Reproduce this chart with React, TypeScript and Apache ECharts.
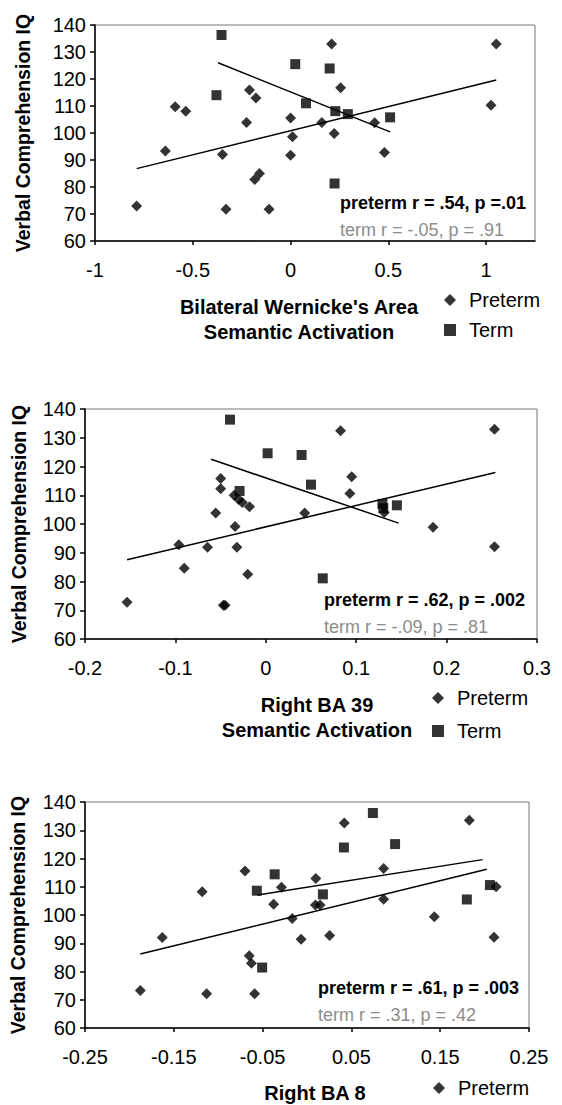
import React, { useEffect, useRef } from "react";
import * as echarts from "echarts";

// ---------- DATA ----------
// Panel 1: Bilateral Wernicke's Area
const p1Preterm: number[][] = [
  [-0.787, 73], [-0.64, 93.3], [-0.59, 109.7], [-0.536, 108.1], [-0.348, 92], [-0.33, 71.8],
  [-0.21, 115.9], [-0.177, 113], [-0.225, 103.9], [-0.183, 82.8], [-0.159, 85], [-0.11, 71.8],
  [0, 105.6], [0.01, 98.6], [0, 91.8], [0.16, 103.9], [0.21, 133], [0.223, 99.8], [0.256, 116.8],
  [0.43, 103.8], [0.48, 92.8], [1.025, 110.3], [1.052, 133],
];
const p1Term: number[][] = [
  [-0.353, 136.3], [-0.379, 114], [0.024, 125.5], [0.079, 111], [0.2, 123.9], [0.229, 108.1],
  [0.293, 107], [0.509, 105.8], [0.225, 81.3],
];
const p1PretermFit: number[][] = [[-0.787, 86.8], [1.052, 119.6]];
const p1TermFit: number[][] = [[-0.371, 126.0], [0.509, 100.4]];
const p1XTicks = [-1, -0.5, 0, 0.5, 1];

// Panel 2: Right BA 39
const p2Preterm: number[][] = [
  [-0.1535, 72.8], [-0.0962, 92.8], [-0.0902, 84.6], [-0.0645, 91.9], [-0.0554, 103.8],
  [-0.0499, 115.8], [-0.0499, 112.3], [-0.047, 71.7], [-0.045, 71.7], [-0.034, 99.1],
  [-0.035, 110], [-0.03, 108.5], [-0.026, 107.5], [-0.032, 91.9], [-0.018, 106], [-0.02, 82.5],
  [0.043, 103.8], [0.0827, 132.4], [0.093, 110.6], [0.095, 116.4], [0.131, 104], [0.185, 98.9],
  [0.253, 133], [0.253, 92.1],
];
const p2Term: number[][] = [
  [-0.0396, 136.3], [0.002, 124.6], [0.0396, 124], [0.05, 113.7], [0.063, 81.1], [0.129, 107],
  [0.13, 105.5], [0.145, 106.5], [-0.029, 111.5],
];
const p2PretermFit: number[][] = [[-0.1535, 87.6], [0.254, 117.9]];
const p2TermFit: number[][] = [[-0.0605, 122.5], [0.147, 100.3]];
const p2XTicks = [-0.2, -0.1, 0, 0.1, 0.2, 0.3];

// Panel 3: Right BA 8
const p3Preterm: number[][] = [
  [-0.1877, 73.3], [-0.163, 92], [-0.118, 108.2], [-0.113, 72.1], [-0.0698, 115.6], [-0.065, 85.6],
  [-0.0626, 82.9], [-0.059, 72.1], [-0.0376, 103.8], [-0.0288, 109.8], [-0.0167, 98.8],
  [-0.0066, 91.4], [0.0099, 112.9], [0.0095, 103.5], [0.0147, 103.5], [0.0255, 92.7],
  [0.042, 132.6], [0.0863, 116.5], [0.0863, 105.6], [0.1434, 99.4], [0.1828, 133.5],
  [0.2106, 92.1], [0.213, 110],
];
const p3Term: number[][] = [
  [0.0742, 136.1], [0.0416, 123.9], [0.0992, 125.1], [-0.0364, 114.4], [-0.0565, 108.6],
  [0.0179, 107.3], [-0.0505, 81.4], [0.18, 105.5], [0.206, 110.6],
];
const p3PretermFit: number[][] = [[-0.1877, 86.2], [0.2025, 116.2]];
const p3TermFit: number[][] = [[-0.0557, 107.1], [0.1977, 119.6]];
const p3XTicks = [-0.25, -0.15, -0.05, 0.05, 0.15, 0.25];

const yMin = 60;
const yMax = 140;
const yStep = 10;

const stats = [
  ["preterm r = .54, p =.01", "term r = -.05, p = .91"],
  ["preterm r = .62, p = .002", "term r = -.09, p = .81"],
  ["preterm r = .61, p = .003", "term r = .31, p = .42"],
];
const xTitles = [
  ["Bilateral Wernicke's Area", "Semantic Activation"],
  ["Right BA 39", "Semantic Activation"],
  ["Right BA 8"],
];
const yTitle = "Verbal Comprehension IQ";

// ---------- LAYOUT ----------
const FONT = '"Liberation Sans", Arial, Helvetica, sans-serif';

const grids = [
  { left: 95, top: 25, width: 440, height: 216 },
  { left: 85, top: 409, width: 452, height: 230 },
  { left: 85, top: 802, width: 444, height: 226 },
];
const xRanges = [
  { min: -1, max: 1.25, interval: 0.25, ticks: p1XTicks },
  { min: -0.2, max: 0.3, interval: 0.1, ticks: p2XTicks },
  { min: -0.25, max: 0.25, interval: 0.05, ticks: p3XTicks },
];
const statPos = [
  [340, 203, 230],
  [324, 600, 627],
  [318, 988, 1015],
];
const xTitlePos = [
  [299, 307, 332],
  [317, 705, 730],
  [315, 1093, 0],
];
const yTitlePos = [23, 19, 18];
const legendPos = [
  { left: 439, top: 285, gap: 10, names: ["Preterm", "Term"] },
  { left: 427, top: 683, gap: 13, names: ["Preterm", "Term"] },
  { left: 428, top: 1073, gap: 10, names: ["Preterm"] },
];

const panels = [
  { pre: p1Preterm, term: p1Term, preFit: p1PretermFit, termFit: p1TermFit },
  { pre: p2Preterm, term: p2Term, preFit: p2PretermFit, termFit: p2TermFit },
  { pre: p3Preterm, term: p3Term, preFit: p3PretermFit, termFit: p3TermFit },
];

function buildOption() {
  const xAxis = xRanges.map((r, i) => ({
    type: "value",
    gridIndex: i,
    min: r.min,
    max: r.max,
    interval: r.interval,
    axisLine: { show: true, onZero: false, lineStyle: { color: "#000", width: 1.5 } },
    axisTick: { show: true, inside: false, length: 4, customValues: r.ticks, lineStyle: { color: "#000", width: 1.5 } },
    axisLabel: { customValues: r.ticks, margin: 19, color: "#000", fontSize: 20, fontFamily: FONT },
    splitLine: { show: false },
  }));
  const yAxis = grids.map((_, i) => ({
    type: "value",
    gridIndex: i,
    min: yMin,
    max: yMax,
    interval: yStep,
    axisLine: { show: true, onZero: false, lineStyle: { color: "#000", width: 1.5 } },
    axisTick: { show: true, inside: false, length: 5, lineStyle: { color: "#000", width: 1.5 } },
    axisLabel: { margin: 9, color: "#000", fontSize: 20, fontFamily: FONT },
    splitLine: { show: false },
  }));

  const series: any[] = [];
  panels.forEach((p, i) => {
    series.push({
      name: "Term-fit-" + i, type: "line", xAxisIndex: i, yAxisIndex: i, data: p.termFit,
      symbol: "none", lineStyle: { color: "#000", width: 1.5 }, z: 2,
    });
    series.push({
      name: "Preterm-fit-" + i, type: "line", xAxisIndex: i, yAxisIndex: i, data: p.preFit,
      symbol: "none", lineStyle: { color: "#000", width: 1.5 }, z: 2,
    });
    series.push({
      name: "Preterm", type: "scatter", xAxisIndex: i, yAxisIndex: i, data: p.pre,
      symbol: "diamond", symbolSize: [11, 11], itemStyle: { color: "#000" }, z: 3,
    });
    series.push({
      name: "Term", type: "scatter", xAxisIndex: i, yAxisIndex: i, data: p.term,
      symbol: "rect", symbolSize: [10, 10], itemStyle: { color: "#000" }, z: 3,
    });
  });

  const legend = legendPos.map((l) => ({
    data: l.names,
    orient: "vertical",
    left: l.left,
    top: l.top,
    itemWidth: 12,
    itemHeight: 12,
    itemGap: l.gap,
    selectedMode: false,
    textStyle: { fontSize: 20, lineHeight: 20, color: "#000", fontFamily: FONT, padding: [0, 0, 0, 8] },
  }));

  const graphic: any[] = [];
  grids.forEach((g, i) => {
    graphic.push({
      type: "text",
      x: yTitlePos[i],
      y: g.top + g.height / 2,
      rotation: Math.PI / 2,
      style: { text: yTitle, font: `bold 19.5px ${FONT}`, fill: "#000", align: "center", verticalAlign: "middle", textAlign: "center", textVerticalAlign: "middle" },
    });
    const [sx, sy1, sy2] = statPos[i];
    graphic.push({
      type: "text", x: sx, y: sy1,
      style: { text: stats[i][0], font: `bold 18px ${FONT}`, fill: "#000", align: "left", verticalAlign: "middle", textAlign: "left", textVerticalAlign: "middle" },
    });
    graphic.push({
      type: "text", x: sx, y: sy2,
      style: { text: stats[i][1], font: `18px ${FONT}`, fill: "#8c8c8c", align: "left", verticalAlign: "middle", textAlign: "left", textVerticalAlign: "middle" },
    });
    const [tx, ty1, ty2] = xTitlePos[i];
    xTitles[i].forEach((t, k) => {
      graphic.push({
        type: "text", x: tx, y: k === 0 ? ty1 : ty2,
        style: { text: t, font: `bold 20px ${FONT}`, fill: "#000", align: "center", verticalAlign: "middle", textAlign: "center", textVerticalAlign: "middle" },
      });
    });
  });

  return {
    animation: false,
    backgroundColor: "#fff",
    grid: grids.map((g) => ({ ...g, show: true, borderColor: "#777", borderWidth: 1, backgroundColor: "transparent" })),
    xAxis,
    yAxis,
    series,
    legend,
    graphic,
  };
}

export default function App() {
  const ref = useRef<HTMLDivElement>(null);
  useEffect(() => {
    if (!ref.current) return;
    const chart = echarts.init(ref.current, null, { renderer: "svg" });
    chart.setOption(buildOption() as any);
    return () => chart.dispose();
  }, []);
  return (
    <div
      ref={ref}
      style={{ position: "absolute", left: 0, top: 0, width: 562, height: 1105, background: "#fff" }}
    />
  );
}
